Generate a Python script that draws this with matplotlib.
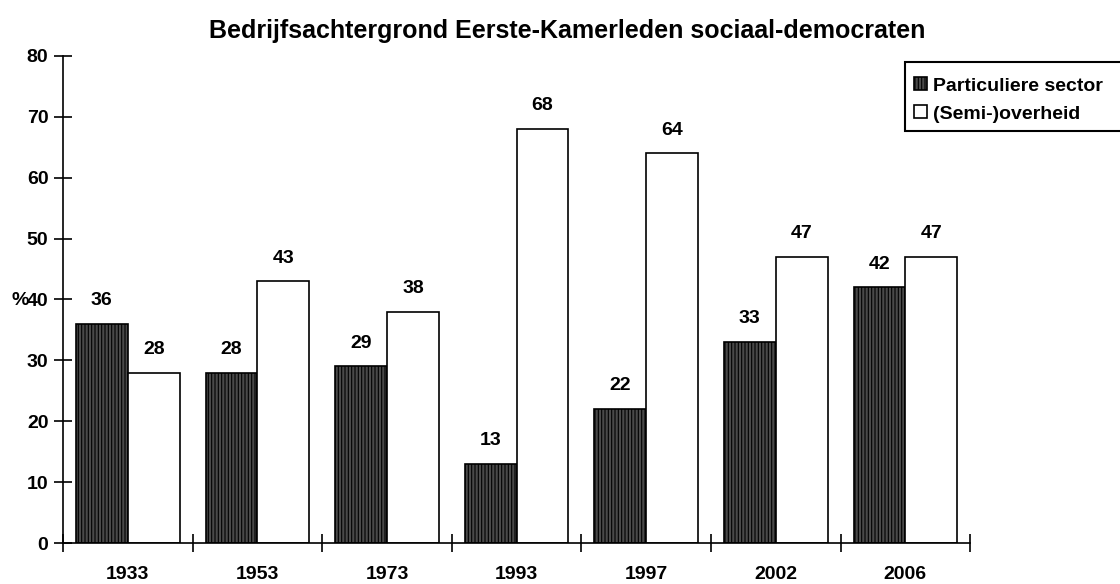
import numpy as np
import matplotlib.pyplot as plt
from matplotlib.patches import Rectangle

plt.rcParams['font.family'] = ['Liberation Sans', 'DejaVu Sans']
plt.rcParams['font.weight'] = 'bold'
plt.rcParams['hatch.linewidth'] = 0.8

jaren = ["1933", "1953", "1973", "1993", "1997", "2002", "2006"]
particulier = [36, 28, 29, 13, 22, 33, 42]
overheid = [28, 43, 38, 68, 64, 47, 47]

fig = plt.figure(figsize=(11.2, 5.84), dpi=100)
ax = fig.add_axes([0.05625, 0.0702, 0.81, 0.834])

x = np.arange(len(jaren))
b1 = ax.bar(x + 0.3, particulier, width=0.4, facecolor="#4a4a4a", edgecolor="black",
            hatch="|||||", linewidth=1.2, label="Particuliere sector")
b2 = ax.bar(x + 0.7, overheid, width=0.4, facecolor="white", edgecolor="black",
            linewidth=1.2, label="(Semi-)overheid")

for xi, v in zip(x + 0.3, particulier):
    ax.text(xi, v + 2.4, str(v), ha="center", va="bottom", fontsize=14, fontweight="bold")
for xi, v in zip(x + 0.7, overheid):
    ax.text(xi, v + 2.4, str(v), ha="center", va="bottom", fontsize=14, fontweight="bold")

ax.set_xlim(0, 7)
ax.set_ylim(0, 80)
ax.set_yticks(range(0, 81, 10))
ax.set_xticks(range(0, 8))
ax.set_xticklabels([])
ax.set_xticks(x + 0.5, minor=True)
ax.set_xticklabels(jaren, minor=True, fontsize=14, fontweight="bold")
ax.tick_params(axis="x", which="minor", length=0, pad=16.5)
ax.tick_params(axis="x", which="major", direction="inout", length=13, width=1.2)
ax.tick_params(axis="y", direction="inout", length=13, width=1.2, labelsize=14, pad=4)
for lab in ax.get_yticklabels():
    lab.set_fontweight("bold")

for s in ["top", "right"]:
    ax.spines[s].set_visible(False)
for s in ["left", "bottom"]:
    ax.spines[s].set_linewidth(1.2)

fig.text(567 / 1120, 1 - 31 / 584, "Bedrijfsachtergrond Eerste-Kamerleden sociaal-democraten",
         fontsize=18, fontweight="bold", ha="center", va="center")
fig.text(12 / 1120, 1 - 300 / 584, "%", fontsize=14, fontweight="bold", va="center")

# legend frame runs past the right edge, as in the original
fig.patches.append(Rectangle((905 / 1120, 1 - 131 / 584), 230 / 1120, 69 / 584,
                             transform=fig.transFigure, facecolor="white",
                             edgecolor="black", linewidth=1.5, zorder=1))
leg = fig.legend(handles=[b1, b2], loc="upper left", bbox_to_anchor=(0.804, 0.891),
                 frameon=False, fontsize=14, handlelength=0.65,
                 handleheight=0.65, handletextpad=0.3, borderpad=0.2, labelspacing=0.55)
for t in leg.get_texts():
    t.set_fontweight("bold")

fig.savefig("out.png", dpi=100)
